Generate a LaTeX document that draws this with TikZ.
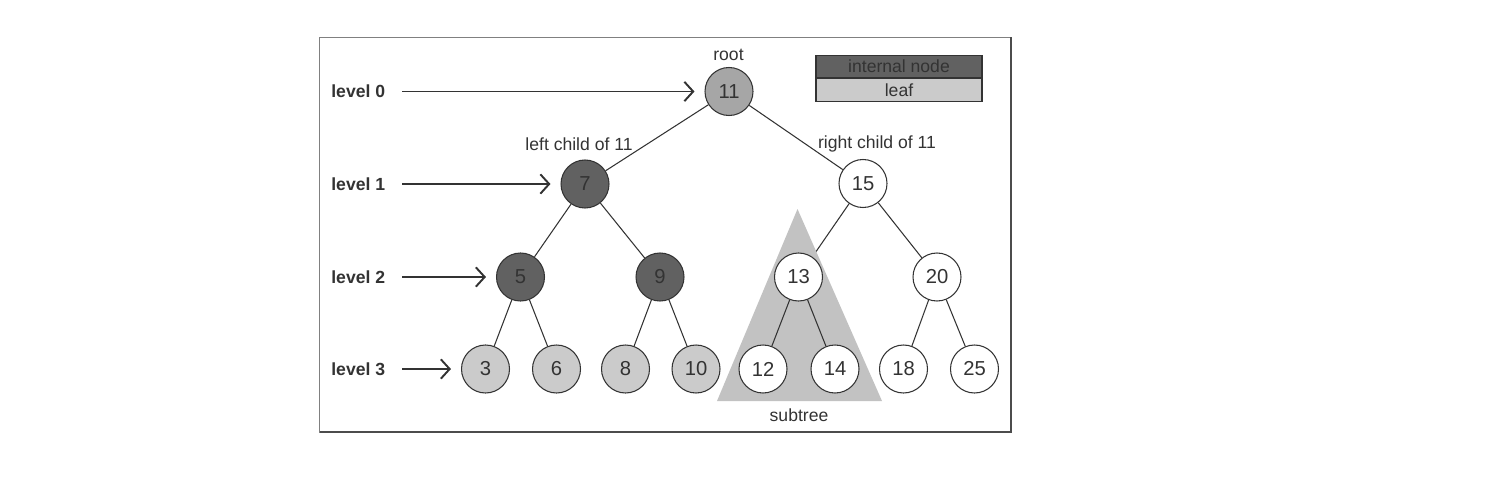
\documentclass[tikz,border=0pt]{standalone}
\usepackage{fontspec}
\setmainfont{Liberation Sans}
\usetikzlibrary{arrows.meta,backgrounds}
\definecolor{darkfill}{HTML}{616161}
\definecolor{rootfill}{HTML}{A6A6A6}
\definecolor{leaffill}{HTML}{CBCBCB}
\definecolor{subfill}{HTML}{C2C2C2}
\definecolor{inkgray}{HTML}{333333}

\begin{document}
\begin{tikzpicture}[
    treenode/.style={circle, draw=inkgray, line width=0.6pt, minimum size=0.96cm, inner sep=0pt, text=inkgray, font=\fontsize{11.5}{13}\selectfont},
    internal/.style={treenode, fill=darkfill},
    leafnode/.style={treenode, fill=leaffill},
    plainnode/.style={treenode, fill=white},
    edge/.style={draw=inkgray, line width=0.6pt},
    levelarrow/.style={draw=inkgray, line width=0.6pt, -{Straight Barb[length=5pt,width=11pt,line width=1.1pt]}, shorten <=0.34cm, shorten >=0.2cm},
    levellabel/.style={anchor=west, inner sep=0pt, text=inkgray, font=\fontsize{10}{12}\selectfont\bfseries},
    caption/.style={inner sep=0pt, text=inkgray, font=\fontsize{10}{12}\selectfont},
    keybox/.style={draw=inkgray, line width=0.6pt, minimum width=3.32cm, minimum height=0.45cm, inner sep=0pt, text=inkgray, font=\fontsize{10}{12}\selectfont}
]
    \useasboundingbox (0,0) rectangle (29.94,9.72);
    % Frame
    \draw[gray, line width=0.5pt] (6.39,1.08) rectangle (20.22,8.97);
    \draw[black!70, line width=1.5pt] (6.39,1.08) -- (20.22,1.08) -- (20.22,8.97);
    % Legend
    \node[keybox, fill=darkfill] (keyint) at (17.98,8.39) {internal node};
    \node[keybox, fill=leaffill, anchor=north] (keyleaf) at (keyint.south) {leaf};
    % Level 0 and 1
    \node[treenode, fill=rootfill] (n11) at (14.58,7.89) {11};
    \node[internal] (n7) at (11.70,6.04) {7};
    \node[plainnode] (n15) at (17.26,6.05) {15};
    % Level 2
    \node[internal] (n5) at (10.41,4.18) {5};
    \node[internal] (n9) at (13.20,4.18) {9};
    \node[plainnode] (n13) at (15.97,4.18) {13};
    \node[plainnode] (n20) at (18.74,4.18) {20};
    % Level 3
    \node[leafnode] (n3) at (9.71,2.34) {3};
    \node[leafnode] (n6) at (11.13,2.34) {6};
    \node[leafnode] (n8) at (12.51,2.34) {8};
    \node[leafnode] (n10) at (13.92,2.34) {10};
    \node[plainnode] (n12) at (15.26,2.34) {12};
    \node[plainnode] (n14) at (16.70,2.34) {14};
    \node[plainnode] (n18) at (18.07,2.34) {18};
    \node[plainnode] (n25) at (19.49,2.34) {25};
    % Labels
    \node[caption] (rootlbl) at (14.57,8.62) {root};
    \node[caption] (leftlbl) at (11.58,6.84) {left child of 11};
    \node[caption] (rightlbl) at (17.54,6.84) {right child of 11};
    \node[caption] (sublbl) at (15.98,1.42) {subtree};
    % Edges and subtree, behind the nodes
    \begin{scope}[on background layer]
        \draw[edge] (n15) -- (n13);
        \fill[subfill] (15.95,5.54) -- (14.34,1.70) -- (17.64,1.70) -- cycle;
        \draw[edge] (n11) -- (n7);
        \draw[edge] (n11) -- (n15);
        \draw[edge] (n7) -- (n5);
        \draw[edge] (n7) -- (n9);
        \draw[edge] (n15) -- (n20);
        \draw[edge] (n5) -- (n3);
        \draw[edge] (n5) -- (n6);
        \draw[edge] (n9) -- (n8);
        \draw[edge] (n9) -- (n10);
        \draw[edge] (n13) -- (n12);
        \draw[edge] (n13) -- (n14);
        \draw[edge] (n20) -- (n18);
        \draw[edge] (n20) -- (n25);
    \end{scope}
    % Levels
    \node[levellabel] (lv0) at (6.62,7.89) {level 0};
    \node[levellabel] (lv1) at (6.62,6.04) {level 1};
    \node[levellabel] (lv2) at (6.62,4.18) {level 2};
    \node[levellabel] (lv3) at (6.62,2.34) {level 3};
    \draw[levelarrow] (lv0) -- (n11);
    \draw[levelarrow] (lv1) -- (n7);
    \draw[levelarrow] (lv2) -- (n5);
    \draw[levelarrow] (lv3) -- (n3);
\end{tikzpicture}
\end{document}
